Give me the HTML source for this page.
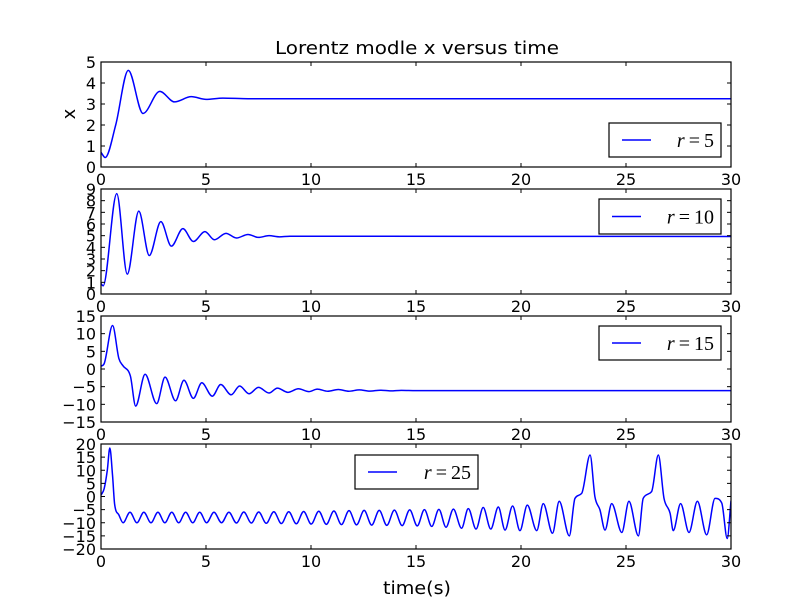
<!DOCTYPE html>
<html><head><meta charset="utf-8"><style>
html,body{margin:0;padding:0;background:#fff;}
svg{display:block;font-family:"DejaVu Sans","Liberation Sans",sans-serif;}
</style></head><body>
<svg id="chart" width="812" height="612" viewBox="0 0 812 612" xmlns="http://www.w3.org/2000/svg">
<rect x="0" y="0" width="812" height="612" fill="#fff"/>
<text x="417" y="54" font-size="18" text-anchor="middle" textLength="284" lengthAdjust="spacingAndGlyphs">Lorentz modle x versus time</text>
<text x="0" y="0" font-size="18" text-anchor="middle" transform="translate(75,114) rotate(-90)">x</text>
<text x="417" y="594" font-size="18" text-anchor="middle" textLength="68" lengthAdjust="spacingAndGlyphs">time(s)</text>
</svg>
<script>
// ---- data (extrema) ----
const xTicks = [0,5,10,15,20,25,30];
const rValues = [5,10,15,25];
const yTicks1 = [0,1,2,3,4,5];
const yTicks2 = [0,1,2,3,4,5,6,7,8,9];
const yTicks3 = [-15,-10,-5,0,5,10,15];
const yTicks4 = [-20,-15,-10,-5,0,5,10,15,20];
const t1 = [0,0.2,0.7,1.3,2.0,2.8,3.5,4.3,5.0,5.8,7.0,30];
const v1 = [0.7,0.45,2.0,4.6,2.55,3.6,3.1,3.35,3.22,3.28,3.25,3.25];
const t2 = [0,0.1,0.75,1.25,1.8,2.3,2.85,3.35,3.9,4.4,4.95,5.4,5.95,6.45,7.0,7.5,8.0,8.5,9.0,30];
const v2 = [0.9,0.7,8.6,1.7,7.1,3.3,6.2,4.1,5.6,4.5,5.35,4.65,5.2,4.8,5.1,4.85,5.0,4.9,4.95,4.93];
const t3 = [0,0.15,0.55,0.85,1.05,1.4,1.65,2.1,2.65,3.05,3.55,3.95,4.4,4.8,5.3,5.7,6.2,6.6,7.05,7.5,8.0,8.4,8.9,9.4,9.9,10.3,10.8,11.3,11.8,12.3,12.8,13.3,13.8,14.3,15.0,30];
const v3 = [0.8,1.5,12.3,3,0.9,-2,-10.5,-1.5,-9.8,-2.3,-9.0,-3.2,-8.3,-3.9,-7.7,-4.4,-7.3,-4.8,-7.0,-5.2,-6.8,-5.4,-6.6,-5.6,-6.4,-5.7,-6.3,-5.8,-6.3,-5.9,-6.25,-6.0,-6.2,-6.05,-6.12,-6.11];
const t4 = [0,0.15,0.3,0.42,0.55,0.65,0.85,
 1.05,1.38,1.71,2.04,2.38,2.71,3.04,3.37,3.70,4.03,4.37,4.70,5.03,5.38,5.74,6.09,6.45,6.80,7.16,7.51,7.87,8.23,8.59,8.94,9.30,9.65,10.01,10.37,10.73,11.09,11.45,11.81,12.17,12.53,12.89,13.25,13.61,13.97,14.34,14.70,15.06,15.40,15.75,16.09,16.43,
 16.78,17.17,17.49,17.86,18.2,18.56,18.92,19.24,19.6,19.95,20.3,20.75,21.06,21.5,21.82,22.3,
 22.57,22.89,23.29,23.52,23.76,24.0,24.32,24.8,25.14,25.59,25.82,26.22,26.54,26.81,27.1,27.25,27.6,28.0,28.4,28.84,29.24,29.56,29.82,30];
const v4 = [0.5,3,10,18.5,8,-3,-7,
 -10,-6,-10,-6,-10,-6,-10,-6,-10,-6,-10,-6,-10,-6,-10,-6,-10.1,-5.9,-10.1,-5.9,-10.2,-5.8,-10.3,-5.8,-10.4,-5.7,-10.5,-5.6,-10.6,-5.5,-10.7,-5.4,-10.8,-5.3,-10.9,-5.3,-11.0,-5.2,-11.1,-5.1,-11.2,-5.0,-11.4,-4.9,-11.7,
 -4.8,-12.1,-4.6,-12.4,-4.2,-12.4,-4.0,-12.8,-3.6,-13.0,-3.3,-13.0,-2.7,-14.0,-1.8,-15.0,
 -0.7,1.2,15.8,-0.1,-5.1,-12.8,-2.7,-13.7,-1.8,-15.0,-0.7,1.9,15.8,-0.7,-6.4,-13.0,-2.7,-13.7,-1.8,-14.6,-0.7,-2.5,-16,-1.6];

const NS = "http://www.w3.org/2000/svg";
const svg = document.getElementById('chart');
const L = 101, R = 731;
const panels = [
 {top:62,bot:167,ymin:0,ymax:5,yt:yTicks1,t:t1,v:v1,lg:[609,123,112,34]},
 {top:189,bot:294,ymin:0,ymax:9,yt:yTicks2,t:t2,v:v2,lg:[599,199,122,35]},
 {top:316,bot:422,ymin:-15,ymax:15,yt:yTicks3,t:t3,v:v3,lg:[599,326,122,34]},
 {top:444,bot:549,ymin:-20,ymax:20,yt:yTicks4,t:t4,v:v4,lg:[355,455,123,34]}
];
function mk(tag, attrs, parent){
 const e = document.createElementNS(NS, tag);
 for (const k in attrs) e.setAttribute(k, attrs[k]);
 (parent||svg).appendChild(e);
 return e;
}
function tangents(xs, ys){
 const n = xs.length, d = [], m = [];
 for (let i=0;i<n-1;i++) d.push((ys[i+1]-ys[i])/(xs[i+1]-xs[i]));
 m[0] = d[0]; m[n-1] = d[n-2];
 for (let i=1;i<n-1;i++) m[i] = (d[i-1]*d[i] <= 0) ? 0 : (d[i-1]+d[i])/2;
 for (let i=0;i<n-1;i++){
  if (d[i]===0){m[i]=0;m[i+1]=0;continue;}
  const a=m[i]/d[i], b=m[i+1]/d[i], s=a*a+b*b;
  if (s>9){const tau=3/Math.sqrt(s); m[i]=tau*a*d[i]; m[i+1]=tau*b*d[i];}
 }
 return m;
}
panels.forEach((p, idx) => {
 const xs = t => L + (t-0)/(30-0)*(R-L);
 const ys = v => p.bot - (v-p.ymin)/(p.ymax-p.ymin)*(p.bot-p.top);
 const g = mk('g', {});
 
 
 const m = tangents(p.t, p.v);
 let d = 'M' + xs(p.t[0]).toFixed(2) + ',' + ys(p.v[0]).toFixed(2);
 for (let i=0;i<p.t.length-1;i++){
  const h = p.t[i+1]-p.t[i];
  d += 'C' + xs(p.t[i]+h/3).toFixed(2) + ',' + ys(p.v[i]+m[i]*h/3).toFixed(2) + ' ' +
       xs(p.t[i+1]-h/3).toFixed(2) + ',' + ys(p.v[i+1]-m[i+1]*h/3).toFixed(2) + ' ' +
       xs(p.t[i+1]).toFixed(2) + ',' + ys(p.v[i+1]).toFixed(2);
 }
 const clip = mk('clipPath', {id:'clip'+idx}, g);
 mk('rect', {x:L,y:p.top,width:R-L,height:p.bot-p.top}, clip);
 const line = mk('path', {d:d, fill:'none', stroke:'#0000ff', 'stroke-width':1.5, 'clip-path':'url(#clip'+idx+')'}, g);
 
 
 const frame = mk('rect', {x:L,y:p.top,width:R-L,height:p.bot-p.top,fill:'none',stroke:'#000','stroke-width':1.2}, g);
 
 
 xTicks.forEach(t => {
  const x = xs(t);
  mk('line', {x1:x,x2:x,y1:p.bot,y2:p.bot-4,stroke:'#000'}, g);
  mk('line', {x1:x,x2:x,y1:p.top,y2:p.top+4,stroke:'#000'}, g);
  const tx = mk('text', {x:x,y:p.bot+18,'font-size':16,'text-anchor':'middle'}, g);
  tx.textContent = t;
  
  
 });
 p.yt.forEach(v => {
  const y = ys(v);
  mk('line', {x1:L,x2:L+4,y1:y,y2:y,stroke:'#000'}, g);
  mk('line', {x1:R,x2:R-4,y1:y,y2:y,stroke:'#000'}, g);
  const ty = mk('text', {x:96,y:y+6,'font-size':16,'text-anchor':'end'}, g);
  ty.textContent = v < 0 ? '\u2212' + (-v) : String(v);
  
  
 });
 const [lx, ly, lw, lh] = p.lg;
 const lg = mk('g', {}, g);
 
 
 mk('rect', {x:lx,y:ly,width:lw,height:lh,fill:'#fff',stroke:'#000','stroke-width':1.2}, lg);
 mk('line', {x1:lx+13,x2:lx+42,y1:ly+lh/2,y2:ly+lh/2,stroke:'#0000ff','stroke-width':1.5}, lg);
 const lt = mk('text', {x:lx+lw-7,y:ly+lh/2+7,'font-size':20,'text-anchor':'end','font-family':'"Liberation Serif",serif'}, lg);
 const ti = mk('tspan', {'font-style':'italic'}, lt);
 ti.textContent = 'r';
 const tv = mk('tspan', {}, lt);
 tv.textContent = '\u2009=\u2009' + rValues[idx];
 
 
});
</script>
</body></html>
